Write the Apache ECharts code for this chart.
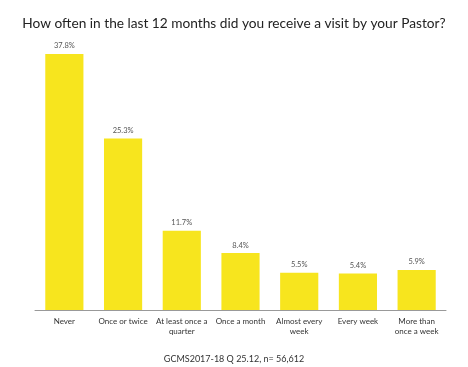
<!DOCTYPE html>
<html><head><meta charset="utf-8">
<script src="https://cdn.jsdelivr.net/npm/echarts@6/dist/echarts.min.js"></script>
<style>html,body{margin:0;padding:0;background:#fff}#c{width:468px;height:367px}</style>
</head><body><div id="c"></div>
<script>
const categories = ['Never', 'Once or twice', 'At least once a\nquarter', 'Once a month', 'Almost every\nweek', 'Every week', 'More than\nonce a week'];
const values = [37.8, 25.3, 11.7, 8.4, 5.5, 5.4, 5.9];
const chart = echarts.init(document.getElementById('c'));
chart.setOption({
  animation: false,
  title: [{
    text: 'How often in the last 12 months did you receive a visit by your Pastor?',
    left: 'center', top: 12,
    textStyle: {fontFamily: 'Lato', fontSize: 13.7, fontWeight: 'normal', color: '#222'}
  }, {
    text: 'GCMS2017-18 Q 25.12, n= 56,612',
    left: 'center', top: 350,
    textStyle: {fontFamily: 'Lato', fontSize: 9, fontWeight: 'normal', color: '#333'}
  }],
  grid: {left: 35, right: 22, top: 39, bottom: 57},
  xAxis: {
    type: 'category', data: categories,
    axisLine: {lineStyle: {color: '#999'}},
    axisTick: {show: false},
    axisLabel: {interval: 0, fontFamily: 'Lato', fontSize: 8, color: '#333', lineHeight: 10, margin: 6}
  },
  yAxis: {type: 'value', min: 0, max: 40, show: false, splitLine: {show: false}},
  series: [{
    type: 'bar', data: values, barWidth: '65%',
    itemStyle: {color: '#F7E51E'},
    label: {show: true, position: 'top', formatter: p => p.value.toFixed(1) + '%', fontFamily: 'Lato', fontSize: 7.5, color: '#555', distance: 4}
  }]
});
</script></body></html>
